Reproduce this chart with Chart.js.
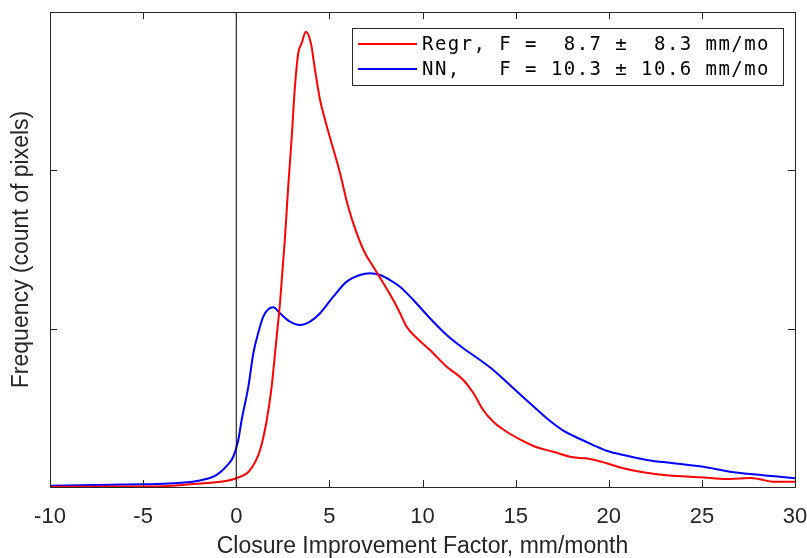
<!DOCTYPE html>
<html>
<head>
<meta charset="utf-8">
<script src="https://cdn.jsdelivr.net/npm/chart.js@4.4.1/dist/chart.umd.min.js"></script>
<style>
  html, body { margin: 0; padding: 0; background: #fff; }
  #wrap { width: 807px; height: 558px; }
</style>
</head>
<body>
<div id="wrap"><canvas id="kde"></canvas></div>
<script>
// values (y in arbitrary count units)
const regrX = [-10, -4.63, -2.48, -0.87, 0.04, 0.74, 1.28, 1.64, 1.90, 2.17, 2.35, 2.62, 2.79, 2.98, 3.15, 3.33, 3.51, 3.74, 4.01, 4.23, 4.50, 4.77, 5.12, 5.57, 6.01, 6.47, 6.91, 7.36, 7.90, 8.43, 8.79, 9.15, 9.69, 10.40, 11.30, 12.19, 12.73, 13.26, 13.80, 14.52, 15.23, 16.13, 17.02, 17.92, 18.46, 18.99, 19.89, 20.78, 21.85, 23.11, 24.36, 25.61, 26.51, 27.58, 28.12, 28.82, 30];
const regrY = [2, 3, 17, 33, 57, 107, 234, 423, 634, 949, 1162, 1581, 1897, 2212, 2528, 2741, 2802, 2876, 2802, 2634, 2444, 2318, 2171, 1983, 1770, 1602, 1478, 1391, 1287, 1181, 1099, 1012, 941, 865, 760, 676, 594, 486, 412, 349, 301, 251, 223, 191, 183, 177, 150, 118, 93, 74, 65, 55, 51, 57, 49, 33, 33];

const nnX = [-10, -5.01, -3.40, -1.95, -1.05, -0.51, -0.16, 0.11, 0.29, 0.65, 0.92, 1.18, 1.45, 1.72, 1.99, 2.35, 2.89, 3.42, 3.96, 4.50, 5.21, 5.93, 6.64, 7.18, 7.72, 8.26, 8.79, 9.51, 10.40, 11.30, 12.19, 13.09, 13.80, 14.88, 15.77, 16.67, 17.56, 18.46, 19.17, 19.89, 20.78, 22.04, 23.47, 25.08, 26.51, 27.76, 29.19, 30];
const nnY = [8, 17, 23, 41, 76, 133, 191, 297, 423, 634, 846, 973, 1076, 1122, 1135, 1097, 1044, 1023, 1044, 1097, 1202, 1297, 1339, 1350, 1339, 1307, 1265, 1181, 1066, 960, 876, 802, 739, 623, 529, 434, 356, 303, 265, 229, 202, 171, 150, 128, 97, 80, 65, 55];

const seriesLabels = ['Regr, F =  8.7 \u00b1  8.3 mm/mo', 'NN,   F = 10.3 \u00b1 10.6 mm/mo'];
const seriesColors = ['#ff0000', '#0000ff'];
const xMin = -10, xMax = 30, xStep = 5;
const yMin = 0, yMax = 3000, yStep = 1000;
const zeroLineX = [0, 0];
const zeroLineY = [yMin, yMax];

const axisColor = '#262626';
const labelFont = "'Liberation Sans', Arial, Helvetica, sans-serif";

function toPoints(xs, ys) {
  return xs.map((x, i) => ({ x: x, y: ys[i] }));
}

// box, inward ticks and in-axes legend, MATLAB style
const matlabAxes = {
  id: 'matlabAxes',
  afterDraw(chart) {
    const ctx = chart.ctx;
    const a = chart.chartArea;
    const xs = chart.scales.x, ys = chart.scales.y;
    const tl = 7;
    ctx.save();
    ctx.strokeStyle = axisColor;
    ctx.lineWidth = 1;
    ctx.beginPath();
    xs.ticks.forEach(t => {
      const px = Math.round(xs.getPixelForValue(t.value)) + 0.5;
      ctx.moveTo(px, a.bottom); ctx.lineTo(px, a.bottom - tl);
      ctx.moveTo(px, a.top); ctx.lineTo(px, a.top + tl);
    });
    ys.ticks.forEach(t => {
      const py = Math.round(ys.getPixelForValue(t.value)) + 0.5;
      ctx.moveTo(a.left, py); ctx.lineTo(a.left + tl, py);
      ctx.moveTo(a.right, py); ctx.lineTo(a.right - tl, py);
    });
    ctx.stroke();
    ctx.strokeRect(Math.round(a.left) + 0.5, Math.round(a.top) + 0.5, Math.round(a.right - a.left), Math.round(a.bottom - a.top));

    // legend
    const bx = 352.5, by = 28.5, bw = 431, bh = 57;
    ctx.fillStyle = '#fff';
    ctx.fillRect(bx, by, bw, bh);
    ctx.strokeStyle = axisColor;
    ctx.strokeRect(bx, by, bw, bh);
    ctx.font = "19px 'DejaVu Sans Mono', 'Liberation Mono', monospace";
    ctx.letterSpacing = '1.45px';
    ctx.textBaseline = 'middle';
    ctx.textAlign = 'left';
    seriesLabels.forEach((lab, i) => {
      const cy = 44 + i * 25;
      ctx.strokeStyle = seriesColors[i];
      ctx.lineWidth = 2;
      ctx.beginPath();
      ctx.moveTo(358, cy); ctx.lineTo(417, cy);
      ctx.stroke();
      ctx.fillStyle = '#000';
      ctx.fillText(lab, 422, cy + 1);
    });
    ctx.restore();
  }
};

new Chart(document.getElementById('kde'), {
  type: 'line',
  data: {
    datasets: [
      {
        label: 'zero',
        data: toPoints(zeroLineX, zeroLineY),
        borderColor: '#000',
        borderWidth: 1,
        pointRadius: 0
      },
      {
        label: seriesLabels[0],
        data: toPoints(regrX, regrY),
        borderColor: seriesColors[0],
        borderWidth: 2,
        pointRadius: 0,
        cubicInterpolationMode: 'monotone'
      },
      {
        label: seriesLabels[1],
        data: toPoints(nnX, nnY),
        borderColor: seriesColors[1],
        borderWidth: 2,
        pointRadius: 0,
        cubicInterpolationMode: 'monotone'
      }
    ]
  },
  options: {
    responsive: true,
    maintainAspectRatio: false,
    animation: false,
    layout: { padding: { top: 12, right: 0, left: 0, bottom: 0 } },
    plugins: {
      legend: { display: false },
      tooltip: { enabled: false }
    },
    scales: {
      x: {
        type: 'linear',
        min: xMin,
        max: xMax,
        grid: { display: false, drawTicks: false },
        border: { display: true, color: axisColor, width: 1 },
        ticks: {
          stepSize: xStep,
          color: axisColor,
          padding: 19,
          font: { family: labelFont, size: 22, lineHeight: 1 },
          maxRotation: 0,
          autoSkip: false
        },
        title: {
          display: true,
          text: 'Closure Improvement Factor, mm/month',
          color: axisColor,
          font: { family: labelFont, size: 23, lineHeight: 1 },
          padding: { top: 0, bottom: 0 }
        },
        afterFit(scale) {
          scale.height = 71;
          scale.paddingLeft = 0;
          scale.paddingRight = 12;
        }
      },
      y: {
        type: 'linear',
        min: yMin,
        max: yMax,
        grid: { display: false, drawTicks: false },
        border: { display: true, color: axisColor, width: 1 },
        ticks: { stepSize: yStep, display: false },
        title: {
          display: true,
          text: 'Frequency (count of pixels)',
          color: axisColor,
          font: { family: labelFont, size: 23, lineHeight: 1 },
          padding: { top: 10, bottom: 0 }
        },
        afterFit(scale) { scale.width = 50; }
      }
    }
  },
  plugins: [matlabAxes]
});
</script>
</body>
</html>
